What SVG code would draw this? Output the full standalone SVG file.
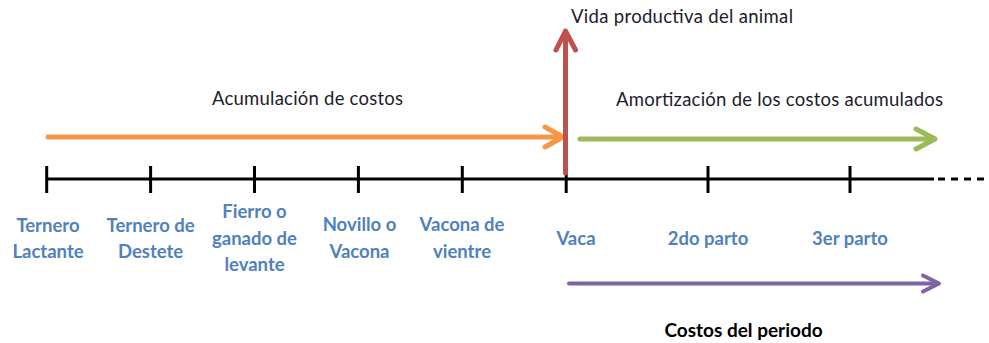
<svg xmlns="http://www.w3.org/2000/svg" width="989" height="343" viewBox="0 0 989 343">
<style>
.lbl{font-family:Lato,"Liberation Sans",sans-serif;font-weight:bold;font-size:18.5px;fill:#4F81BD;text-anchor:middle}
.cap{font-family:Lato,"Liberation Sans",sans-serif;font-size:18.5px;fill:#1c1c2c}
.axis{stroke:#000;stroke-width:3;fill:none}
.arr{fill:none;stroke-linecap:round;stroke-linejoin:round}
</style>
<rect width="989" height="343" fill="#fff"/>
<g id="connectors">
  <g id="axis">
    <line class="axis" x1="46.7" y1="179" x2="934" y2="179"/>
    <line class="axis" x1="938" y1="179" x2="989" y2="179" stroke-dasharray="7 6"/>
    <path class="axis" d="M46.7 166V193M150.6 166V193M254.5 166V193M358.4 166V193M462.3 166V193M566.2 173V193M708 166V193M850 166V193"/>
  </g>
  <g id="arrow-acumulacion" class="arr" stroke="#F79646" stroke-width="5">
    <path d="M48 137H562"/>
    <path d="M545 127L563 137L545 147"/>
  </g>
  <g id="arrow-vida" class="arr" stroke="#C0504D" stroke-width="5">
    <path d="M565.5 173V32"/>
    <path d="M556 50L565.5 31L575.5 50"/>
  </g>
  <g id="arrow-amortizacion" class="arr" stroke="#9BBB59" stroke-width="5">
    <path d="M580 139H934"/>
    <path d="M916 129L935 139L916 149"/>
  </g>
  <g id="arrow-periodo" class="arr" stroke="#8064A2" stroke-width="4">
    <path d="M569 283.5H937"/>
    <path d="M923 275.5L939 283.5L923 291.5"/>
  </g>
</g>
<g id="caption-vida"><text class="cap" x="571" y="23" textLength="222" lengthAdjust="spacing">Vida productiva del animal</text></g>
<g id="caption-acumulacion"><text class="cap" x="212" y="105" textLength="191" lengthAdjust="spacing">Acumulación de costos</text></g>
<g id="caption-amortizacion"><text class="cap" x="616" y="106" textLength="327" lengthAdjust="spacing">Amortización de los costos acumulados</text></g>
<g id="node-ternero-lactante"><text class="lbl" x="48" y="231.5">Ternero</text><text class="lbl" x="48" y="258">Lactante</text></g>
<g id="node-ternero-destete"><text class="lbl" x="150.6" y="231.5">Ternero de</text><text class="lbl" x="150.6" y="258">Destete</text></g>
<g id="node-fierro"><text class="lbl" x="254.5" y="218">Fierro o</text><text class="lbl" x="254.5" y="244.5">ganado de</text><text class="lbl" x="254.5" y="271">levante</text></g>
<g id="node-novillo"><text class="lbl" x="359.5" y="230.5">Novillo o</text><text class="lbl" x="359.5" y="258">Vacona</text></g>
<g id="node-vacona"><text class="lbl" x="462" y="230.5">Vacona de</text><text class="lbl" x="462" y="258">vientre</text></g>
<g id="node-vaca"><text class="lbl" x="576" y="245">Vaca</text></g>
<g id="node-2do"><text class="lbl" x="708" y="245">2do parto</text></g>
<g id="node-3er"><text class="lbl" x="850" y="245">3er parto</text></g>
<g id="caption-periodo"><text x="743.5" y="337" style="font-family:Lato,'Liberation Sans',sans-serif;font-weight:bold;font-size:19px;fill:#000;text-anchor:middle">Costos del periodo</text></g>
</svg>
